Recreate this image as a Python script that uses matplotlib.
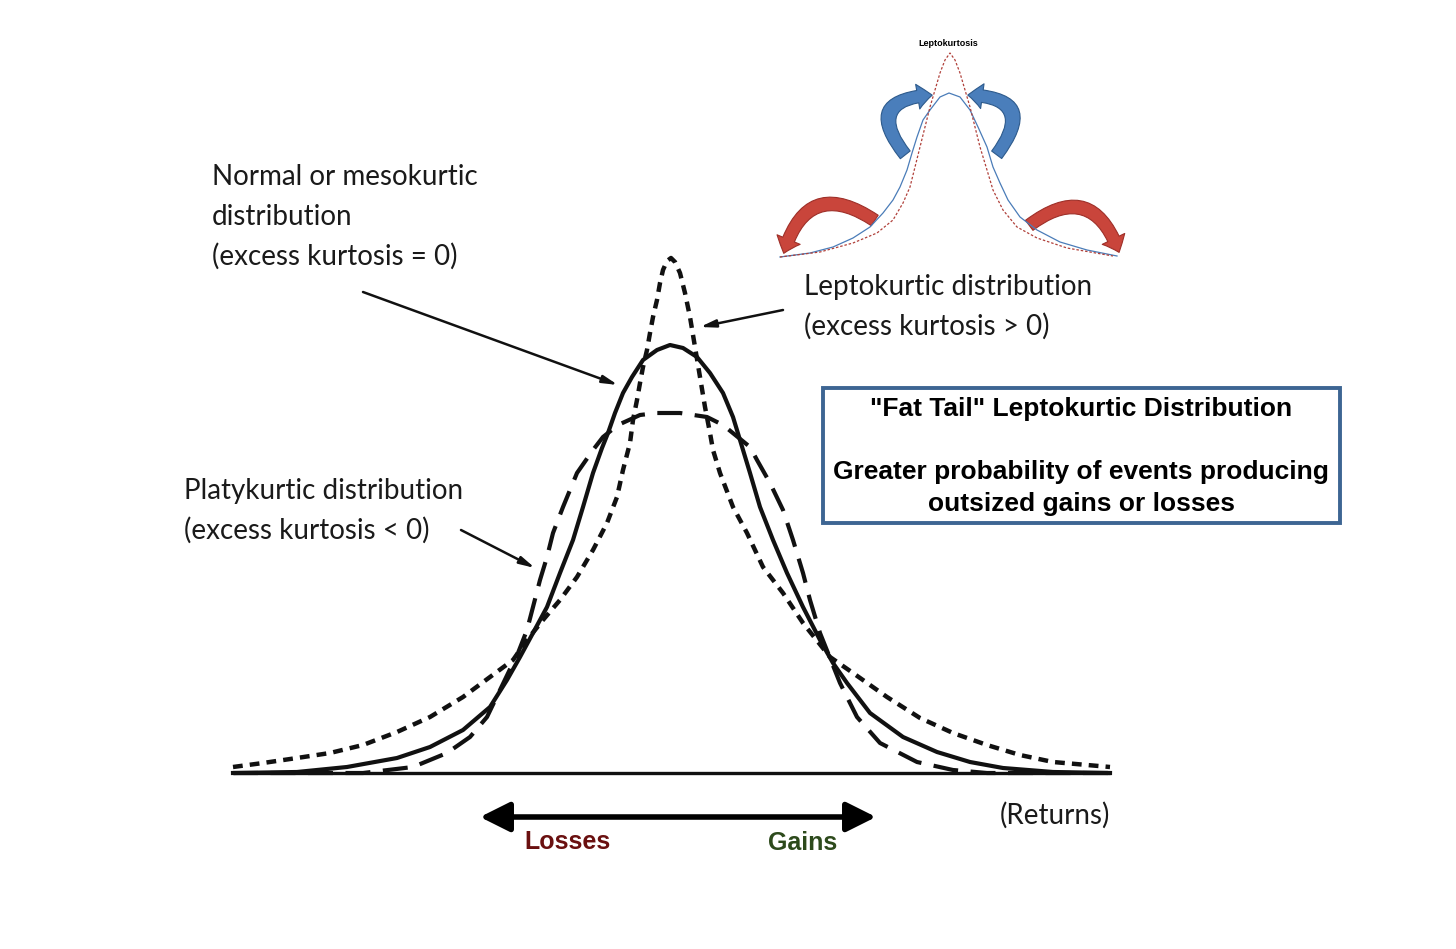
import numpy as np
import matplotlib
matplotlib.use('Agg')
import matplotlib.pyplot as plt
from matplotlib.patches import FancyArrowPatch, Rectangle


###===== DATA =====####

# main curves (x = returns, y = density, arbitrary units)
normal_x = [-4.40, -3.76, -3.26, -2.76, -2.43, -2.10, -1.83, -1.66, -1.53, -1.40, -1.26, -1.13, -1.00,
            -0.90, -0.80, -0.71, -0.65, -0.58, -0.50, -0.41, -0.30, -0.16, -0.03, 0.10, 0.24, 0.37,
            0.50, 0.60, 0.67, 0.77, 0.87, 1.00, 1.14, 1.30, 1.47, 1.60, 1.74, 1.97, 2.30, 2.64, 2.97,
            3.30, 3.80, 4.37]
normal_y = [0.00, 0.01, 0.06, 0.15, 0.26, 0.43, 0.66, 0.93, 1.16, 1.40, 1.66, 2.00, 2.33,
            2.66, 3.00, 3.25, 3.40, 3.60, 3.80, 3.96, 4.13, 4.23, 4.28, 4.25, 4.16, 4.00,
            3.80, 3.56, 3.33, 3.00, 2.66, 2.33, 2.00, 1.66, 1.33, 1.10, 0.90, 0.60, 0.36, 0.21, 0.11,
            0.05, 0.01, 0.00]

lepto_x = [-4.40, -4.10, -3.76, -3.43, -3.10, -2.76, -2.43, -2.10, -1.83, -1.60, -1.46, -1.30, -1.13,
           -0.96, -0.80, -0.66, -0.56, -0.50, -0.43, -0.40, -0.36, -0.33, -0.30, -0.26, -0.23, -0.20,
           -0.16, -0.13, -0.10, -0.06, -0.02, 0.02, 0.07, 0.12, 0.17, 0.22, 0.27, 0.32, 0.37, 0.40,
           0.47, 0.60, 0.74, 0.90, 1.10, 1.30, 1.57, 1.80, 2.14, 2.47, 2.80, 3.14, 3.47, 3.80, 4.37]
lepto_y = [0.06, 0.10, 0.15, 0.20, 0.28, 0.41, 0.56, 0.76, 0.96, 1.13, 1.33, 1.53, 1.73,
           1.96, 2.23, 2.50, 2.76, 3.03, 3.30, 3.53, 3.73, 3.90, 4.06, 4.23, 4.40, 4.56,
           4.73, 4.90, 5.03, 5.12, 5.15, 5.11, 5.00, 4.80, 4.56, 4.26, 3.96, 3.66, 3.40, 3.23,
           3.00, 2.66, 2.40, 2.06, 1.80, 1.50, 1.16, 1.00, 0.76, 0.55, 0.40, 0.28, 0.18, 0.11, 0.06]

platy_x = [-4.40, -3.10, -2.60, -2.26, -2.03, -1.86, -1.73, -1.60, -1.55, -1.46, -1.40, -1.33, -1.26,
           -1.20, -1.10, -0.96, -0.80, -0.70, -0.55, -0.33, -0.16, 0.07, 0.34, 0.50, 0.77, 0.84, 0.97,
           1.10, 1.20, 1.30, 1.37, 1.47, 1.67, 1.84, 2.07, 2.44, 2.80, 3.14, 4.37]
platy_y = [0.00, 0.00, 0.06, 0.20, 0.36, 0.56, 0.83, 1.10, 1.20, 1.43, 1.66, 1.93, 2.16,
           2.40, 2.66, 3.00, 3.23, 3.36, 3.48, 3.58, 3.60, 3.60, 3.56, 3.48, 3.26, 3.13, 2.90,
           2.63, 2.33, 2.00, 1.73, 1.40, 0.90, 0.56, 0.30, 0.11, 0.03, 0.00, 0.00]

returns_range = [-4.40, 4.37]

# small inset sketch (pixel-like units)
inset_normal_x = [-170, -140, -117, -97, -80, -67, -57, -50, -43, -38, -33, -27, -20, -10, -1,
                  10, 20, 28, 37, 43, 50, 58, 70, 87, 110, 137, 167]
inset_normal_y = [1, 5, 11, 20, 31, 45, 58, 71, 88, 105, 121, 138, 148, 161, 165,
                  161, 148, 131, 111, 91, 75, 58, 41, 28, 16, 8, 2]
inset_lepto_x = [-170, -130, -97, -73, -57, -47, -40, -35, -30, -25, -20, -15, -10, -5, 0,
                 5, 10, 15, 20, 25, 30, 37, 43, 53, 67, 87, 117, 163]
inset_lepto_y = [1, 6, 15, 25, 38, 55, 71, 91, 111, 131, 151, 168, 185, 198, 205,
                 198, 185, 168, 151, 131, 111, 88, 68, 48, 31, 20, 10, 2]

normal_label = ['Normal or mesokurtic', 'distribution', '(excess kurtosis = 0)']
lepto_label = ['Leptokurtic distribution', '(excess kurtosis > 0)']
platy_label = ['Platykurtic distribution', '(excess kurtosis < 0)']
box_title = '"Fat Tail" Leptokurtic Distribution'
box_text = 'Greater probability of events producing\noutsized gains or losses'


###===== FIGURE =====####
fig = plt.figure(figsize=(14.56, 9.49), dpi=100)
ax = fig.add_axes([0, 0, 1, 1])
ax.set_xlim(-6.73, 7.83)
ax.set_ylim(-1.76, 7.73)
ax.axis('off')

ink = '#111111'
ax.plot(returns_range, [0, 0], color=ink, lw=2.4, solid_capstyle='butt')
ax.plot(platy_x, platy_y, color=ink, lw=3.0, dashes=(6, 3), dash_joinstyle='round')
ax.plot(lepto_x, lepto_y, color=ink, lw=3.2, dashes=(2.2, 1.6), dash_joinstyle='round')
ax.plot(normal_x, normal_y, color=ink, lw=3.0, solid_joinstyle='round')

# labels, one line at a time so the spacing stays even
label_font = dict(family='Lato', fontsize=20, color='#1a1a1a', va='baseline', ha='left')
line_gap = 0.40
for lines, x0, y0 in [(normal_label, -4.61, 5.88), (lepto_label, 1.31, 4.78), (platy_label, -4.89, 2.74)]:
    for i, line in enumerate(lines):
        ax.text(x0, y0 - i * line_gap, line, **label_font)
ax.text(3.27, -0.42, '(Returns)', family='Lato', fontsize=20, color='#1a1a1a', va='center', ha='left')

# pointer arrows
ptr = dict(arrowstyle='-|>,head_length=0.9,head_width=0.22', color=ink, lw=1.8, shrinkA=0, shrinkB=0)
ax.annotate('', xy=(-0.55, 3.88), xytext=(-3.10, 4.81), arrowprops=ptr)
ax.annotate('', xy=(0.27, 4.46), xytext=(1.10, 4.63), arrowprops=ptr)
ax.annotate('', xy=(-1.38, 2.05), xytext=(-2.12, 2.43), arrowprops=ptr)

# losses / gains arrow
ax.annotate('', xy=(-1.93, -0.44), xytext=(2.03, -0.44),
            arrowprops=dict(arrowstyle='<|-|>,head_length=0.9,head_width=0.45', color='black', lw=4,
                            shrinkA=0, shrinkB=0, mutation_scale=20))
ax.text(-1.06, -0.69, 'Losses', family='Liberation Sans', weight='bold', fontsize=18,
        color='#6a1010', ha='center', va='center')
ax.text(1.30, -0.70, 'Gains', family='Liberation Sans', weight='bold', fontsize=18,
        color='#2d4a1c', ha='center', va='center')

# fat tail box
ax.add_patch(Rectangle((1.50, 2.50), 5.17, 1.35, fill=False, edgecolor='#3d6593', lw=2.8))
ax.text(4.08, 3.64, box_title, family='Liberation Sans', weight='bold', fontsize=19,
        color='black', ha='center', va='center')
ax.text(4.08, 2.85, box_text, family='Liberation Sans', weight='bold', fontsize=19,
        color='black', ha='center', va='center', linespacing=1.4)

# inset sketch
ax_in = fig.add_axes([770 / 1456, (949 - 263) / 949, 360 / 1456, 225 / 949])
ax_in.set_xlim(-180, 180)
ax_in.set_ylim(-5, 220)
ax_in.axis('off')
ax_in.plot(inset_normal_x, inset_normal_y, color='#4a7cb8', lw=0.9)
ax_in.plot(inset_lepto_x, inset_lepto_y, color='#b0403a', lw=0.9, dashes=(2, 1.5))
ax_in.text(-2, 215, 'Leptokurtosis', family='Liberation Sans', weight='bold', fontsize=6.5,
           ha='center', va='center')

arrow_style = 'simple,head_length=0.7,head_width=1.2,tail_width=0.6'
for start, end, rad in [((-43, 101), (-15, 163), -1.0), ((45, 101), (15, 163), 1.0)]:
    ax_in.add_patch(FancyArrowPatch(start, end, connectionstyle=f'arc3,rad={rad}', arrowstyle=arrow_style,
                                    mutation_scale=15, facecolor='#4a7ebb', edgecolor='#2d5a8c', lw=0.8))
for start, end, rad in [((-73, 36), (-167, 2), 0.7), ((77, 31), (170, 3), -0.7)]:
    ax_in.add_patch(FancyArrowPatch(start, end, connectionstyle=f'arc3,rad={rad}', arrowstyle=arrow_style,
                                    mutation_scale=15, facecolor='#c9453b', edgecolor='#9e2f28', lw=0.8))

fig.savefig('out.png', dpi=100, facecolor='white')
